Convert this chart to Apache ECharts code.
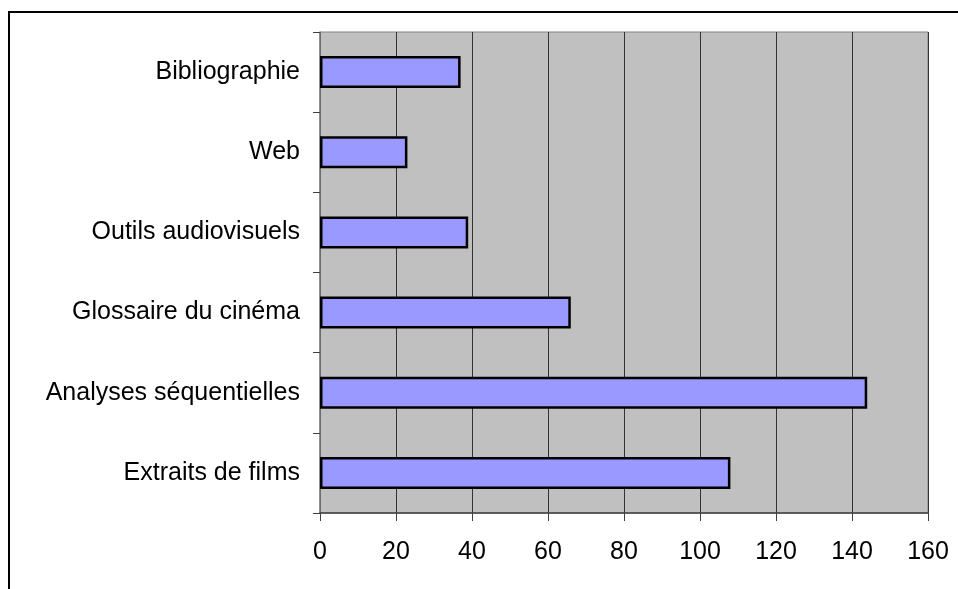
<!DOCTYPE html>
<html>
<head>
<meta charset="utf-8">
<script src="https://cdn.jsdelivr.net/npm/echarts@6/dist/echarts.min.js"></script>
<style>
  html, body { margin: 0; padding: 0; background: #fff; }
  #chart { width: 958px; height: 589px; }
</style>
</head>
<body>
<div id="chart"></div>
<script>
  // categories listed bottom -> top (category axis starts at the bottom)
  var categories = ['Extraits de films', 'Analyses séquentielles', 'Glossaire du cinéma', 'Outils audiovisuels', 'Web', 'Bibliographie']
  var values = [108, 144, 66, 39, 23, 37]
  var xTicks = [0, 20, 40, 60, 80, 100, 120, 140, 160]

  var font = '"Liberation Sans", Arial, sans-serif'
  var dom = echarts.init(document.getElementById('chart'))
  var option = {
    animation: false,
    graphic: [{
      type: 'rect',
      shape: { x: 9, y: 12, width: 1000, height: 1000 },
      style: { fill: 'none', stroke: '#000', lineWidth: 2 },
      silent: true
    }],
    grid: {
      left: 320,
      top: 32,
      right: 30,
      bottom: 76,
      show: true,
      backgroundColor: '#C0C0C0',
      borderColor: '#808080',
      borderWidth: 1
    },
    xAxis: {
      type: 'value',
      min: xTicks[0],
      max: xTicks[xTicks.length - 1],
      interval: 20,
      axisLine: { show: true, lineStyle: { color: '#404040', width: 1.5 } },
      axisTick: { show: true, length: 8, lineStyle: { color: '#404040' } },
      axisLabel: { color: '#000', fontSize: 25, fontFamily: font, margin: 27 },
      splitLine: { show: true, lineStyle: { color: '#333', width: 1 } }
    },
    yAxis: {
      type: 'category',
      data: categories,
      axisLine: { show: true, lineStyle: { color: '#808080', width: 1.5 } },
      axisTick: { show: true, length: 7, inside: false, lineStyle: { color: '#404040' } },
      axisLabel: { color: '#000', fontSize: 25, fontFamily: font, margin: 20 },
      splitLine: { show: false }
    },
    series: [{
      type: 'bar',
      data: values,
      barWidth: 32,
      itemStyle: { color: '#9999FF', borderColor: '#000', borderWidth: 2.5 }
    }]
  }
  dom.setOption(option)
</script>
</body>
</html>
